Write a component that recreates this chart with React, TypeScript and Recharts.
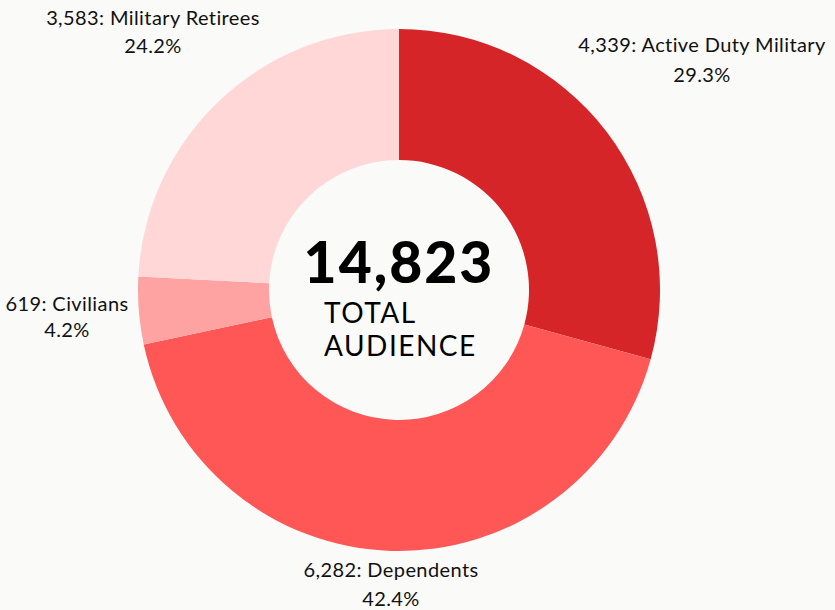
import { PieChart, Pie, Cell } from "recharts";

const categories = ["Active Duty Military", "Dependents", "Civilians", "Military Retirees"];
const counts = [4339, 6282, 619, 3583];
const percents = ["29.3%", "42.4%", "4.2%", "24.2%"];
const totalLabel = "14,823";

const colors = ["#D52528", "#FF5656", "#FFA2A2", "#FFD7D7"];
// label anchor offsets from the pie centre, per slice
const labelOffsets = [
  { dx: 303, dy: -238, gap: 30 },
  { dx: -8, dy: 287, gap: 29 },
  { dx: -332, dy: 21, gap: 26 },
  { dx: -246, dy: -265, gap: 28 },
];

const data = categories.map((name, i) => ({ name, value: counts[i], pct: percents[i] }));

const font = "Lato, 'Open Sans', sans-serif";

function renderLabel(props: any) {
  const { cx, cy, index } = props;
  const d = data[index];
  const o = labelOffsets[index];
  const x = cx + o.dx;
  const y = cy + o.dy;
  return (
    <text x={x} y={y} textAnchor="middle" fill="#111" fontSize={20} fontFamily={font} letterSpacing={0.4}>
      <tspan x={x} dy={0}>{`${d.value.toLocaleString("en-US")}: ${d.name}`}</tspan>
      <tspan x={x} dy={o.gap}>{d.pct}</tspan>
    </text>
  );
}

export default function App() {
  return (
    <div style={{ position: "absolute", left: 0, top: 0, width: 835, height: 610, background: "#FAFAF8", overflow: "hidden" }}>
      <PieChart width={835} height={610} margin={{ top: 0, right: 0, bottom: 0, left: 0 }}>
        <Pie
          data={data}
          dataKey="value"
          cx={399}
          cy={290}
          innerRadius={130}
          outerRadius={261}
          startAngle={90}
          endAngle={-270}
          stroke="none"
          label={renderLabel}
          labelLine={false}
          isAnimationActive={false}
        >
          {data.map((entry, i) => (
            <Cell key={`c-${i}`} fill={colors[i]} />
          ))}
        </Pie>
      </PieChart>
      <svg width={835} height={610} style={{ position: "absolute", left: 0, top: 0, pointerEvents: "none" }}>
        <text x={399} y={283} textAnchor="middle" fontSize={57} fontWeight={900} fontFamily={font} fill="#000" letterSpacing={2}>
          {totalLabel}
        </text>
        <text x={324} y={323} fontSize={28} fontFamily={font} fill="#000" letterSpacing={1.5}>TOTAL</text>
        <text x={324} y={356} fontSize={28} fontFamily={font} fill="#000" letterSpacing={1.5}>AUDIENCE</text>
      </svg>
    </div>
  );
}
